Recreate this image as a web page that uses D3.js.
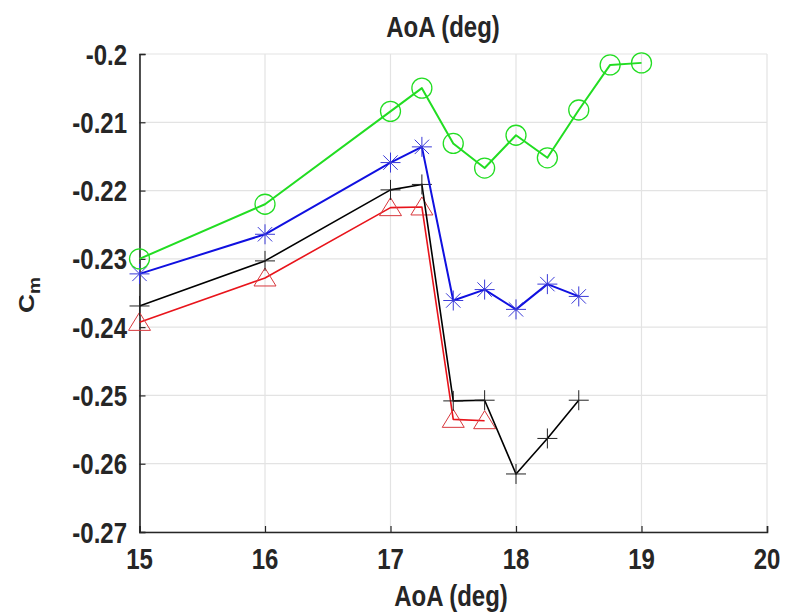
<!DOCTYPE html>
<html>
<head>
<meta charset="utf-8">
<script src="https://cdn.jsdelivr.net/npm/d3@7"></script>
<style>
  html, body { margin: 0; padding: 0; background: #fff; }
  text { font-family: "Liberation Sans", Arial, sans-serif; font-weight: bold; fill: #262626; }
</style>
</head>
<body>
<script>
// data
const aoaGreen = [15, 16, 17, 17.25, 17.5, 17.75, 18, 18.25, 18.5, 18.75, 19];
const cmGreen = [-0.2300, -0.2220, -0.2084, -0.2050, -0.2131, -0.2167, -0.2119, -0.2152, -0.2082, -0.2016, -0.2013];

const aoaBlue = [15, 16, 17, 17.25, 17.5, 17.75, 18, 18.25, 18.5];
const cmBlue = [-0.2322, -0.2264, -0.2159, -0.2136, -0.2361, -0.2345, -0.2374, -0.2337, -0.2355];

const aoaBlack = [15, 16, 17, 17.25, 17.5, 17.75, 18, 18.25, 18.5];
const cmBlack = [-0.2369, -0.2303, -0.2199, -0.2191, -0.2508, -0.2507, -0.2615, -0.2563, -0.2507];

const aoaRed = [15, 16, 17, 17.25, 17.5, 17.75];
const cmRed = [-0.2393, -0.2328, -0.2225, -0.2224, -0.2535, -0.2537];

const xTicks = [15, 16, 17, 18, 19, 20];
const yTicks = [-0.27, -0.26, -0.25, -0.24, -0.23, -0.22, -0.21, -0.2];

const width = 787;
const height = 613;
const margin = { left: 139.5, right: 20, top: 54, bottom: 81 };
const stretch = 1.2; // text in the picture is a bit tall

const svg = d3.select("body")
  .append("svg")
  .attr("width", width)
  .attr("height", height);

const x = d3.scaleLinear().domain([15, 20]).range([margin.left, width - margin.right]);
const y = d3.scaleLinear().domain([-0.27, -0.2]).range([height - margin.bottom, margin.top]);

// grid
svg.append("g")
  .selectAll("line")
  .data(xTicks)
  .enter()
  .append("line")
  .attr("x1", d => x(d)).attr("x2", d => x(d))
  .attr("y1", y(-0.27)).attr("y2", y(-0.2))
  .style("stroke", "#e3e3e3").style("stroke-width", 1.2);

svg.append("g")
  .selectAll("line")
  .data(yTicks)
  .enter()
  .append("line")
  .attr("x1", x(15)).attr("x2", x(20))
  .attr("y1", d => y(d)).attr("y2", d => y(d))
  .style("stroke", "#e3e3e3").style("stroke-width", 1.2);

// axes (ticks inside)
const xAxis = svg.append("g")
  .attr("transform", `translate(0, ${y(-0.27)})`)
  .call(d3.axisBottom(x).tickValues(xTicks).tickSize(-6).tickFormat(""));
const yAxis = svg.append("g")
  .attr("transform", `translate(${x(15)}, 0)`)
  .call(d3.axisLeft(y).tickValues(yTicks).tickSize(-6).tickFormat(""));
[xAxis, yAxis].forEach(a => {
  a.select(".domain").style("stroke", "#262626").style("stroke-width", 1.6);
  a.selectAll(".tick line").style("stroke", "#262626").style("stroke-width", 1.2);
});

// tick labels
svg.append("g")
  .selectAll("text")
  .data(xTicks)
  .enter()
  .append("text")
  .attr("text-anchor", "middle")
  .attr("transform", d => `translate(${x(d)}, 569) scale(1, ${stretch})`)
  .style("font-size", "24px")
  .text(d => d);

svg.append("g")
  .selectAll("text")
  .data(yTicks)
  .enter()
  .append("text")
  .attr("text-anchor", "end")
  .attr("transform", d => `translate(127, ${y(d) + 10.5}) scale(1, ${stretch})`)
  .style("font-size", "24px")
  .text(d => d3.format("")(+d.toFixed(2)).replace("−", "-"));

// titles
svg.append("text")
  .attr("text-anchor", "middle")
  .attr("transform", `translate(443, 36.5) scale(1, ${stretch})`)
  .style("font-size", "24px")
  .text("AoA (deg)");

svg.append("text")
  .attr("text-anchor", "middle")
  .attr("transform", `translate(451, 606) scale(1, ${stretch})`)
  .style("font-size", "24px")
  .text("AoA (deg)");

const yl = svg.append("text")
  .attr("text-anchor", "middle")
  .attr("transform", `translate(34, 295) scale(1, ${stretch}) rotate(-90)`)
  .style("font-size", "22px");
yl.append("tspan").text("C");
yl.append("tspan").attr("dy", 6).style("font-size", "16px").text("m");

// series
const line = d3.line().x(d => x(d[0])).y(d => y(d[1]));

function marker(g, type, color) {
  const s = 10;
  if (type === "circle") {
    g.append("circle").attr("r", s).style("fill", "none").style("stroke", color).style("stroke-width", 1.3);
  } else if (type === "triangle") {
    g.append("path").attr("d", "M0,-10L11,8L-11,8Z").style("fill", "none").style("stroke", color).style("stroke-width", 1);
  } else if (type === "plus") {
    g.append("path").attr("d", `M${-s},0H${s}M0,${-s}V${s}`).style("stroke", color).style("stroke-width", 1);
  } else if (type === "star") {
    const k = s * 0.72;
    g.append("path")
      .attr("d", `M${-s},0H${s}M0,${-s}V${s}M${-k},${-k}L${k},${k}M${-k},${k}L${k},${-k}`)
      .style("stroke", color).style("stroke-width", 1);
  }
}

const series = [
  { xs: aoaRed, ys: cmRed, color: "#e8141b", marker: "triangle", mcolor: "#d8373c", lw: 1.6 },
  { xs: aoaBlack, ys: cmBlack, color: "#000000", marker: "plus", mcolor: "#222222", lw: 1.6 },
  { xs: aoaBlue, ys: cmBlue, color: "#1010e0", marker: "star", mcolor: "#3a3ad8", lw: 2 },
  { xs: aoaGreen, ys: cmGreen, color: "#22dd22", marker: "circle", mcolor: "#22dd22", lw: 2 }
];

series.forEach(s => {
  const pts = s.xs.map((v, i) => [v, s.ys[i]]);
  svg.append("path")
    .datum(pts)
    .attr("d", line)
    .style("fill", "none")
    .style("stroke", s.color)
    .style("stroke-width", s.lw)
    .style("stroke-linejoin", "round");
  svg.append("g")
    .selectAll("g")
    .data(pts)
    .enter()
    .append("g")
    .attr("transform", d => `translate(${x(d[0])}, ${y(d[1])})`)
    .each(function () { marker(d3.select(this), s.marker, s.mcolor); });
});
</script>
</body>
</html>
